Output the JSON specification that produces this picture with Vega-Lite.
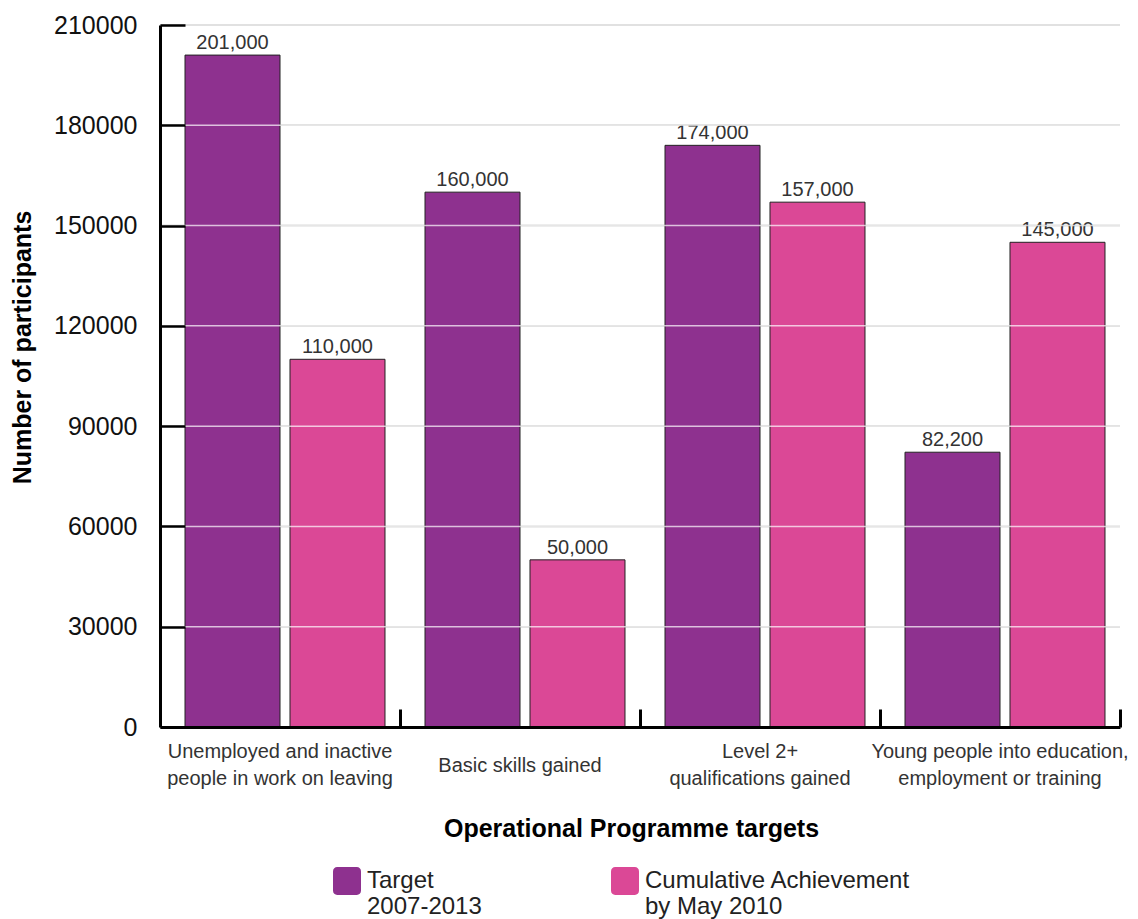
{
  "$schema": "https://vega.github.io/schema/vega-lite/v6.json",
  "autosize": "none",
  "padding": {"left": 160, "top": 25, "right": 18, "bottom": 192},
  "width": 960,
  "height": 702,
  "config": {
    "view": {"stroke": null},
    "font": "Liberation Sans"
  },
  "datasets": {
    "bars": [
      {"category": "Unemployed and inactive people in work on leaving", "series": "Target 2007-2013", "value": 201000},
      {"category": "Unemployed and inactive people in work on leaving", "series": "Cumulative Achievement by May 2010", "value": 110000},
      {"category": "Basic skills gained", "series": "Target 2007-2013", "value": 160000},
      {"category": "Basic skills gained", "series": "Cumulative Achievement by May 2010", "value": 50000},
      {"category": "Level 2+ qualifications gained", "series": "Target 2007-2013", "value": 174000},
      {"category": "Level 2+ qualifications gained", "series": "Cumulative Achievement by May 2010", "value": 157000},
      {"category": "Young people into education, employment or training", "series": "Target 2007-2013", "value": 82200},
      {"category": "Young people into education, employment or training", "series": "Cumulative Achievement by May 2010", "value": 145000}
    ],
    "grid": [
      {"g": 30000}, {"g": 60000}, {"g": 90000}, {"g": 120000}, {"g": 150000}, {"g": 180000}, {"g": 210000}
    ]
  },
  "layer": [
    {
      "data": {"name": "grid"},
      "mark": {"type": "rule", "color": "#aaaaaa", "strokeWidth": 1.5},
      "encoding": {
        "y": {"field": "g", "type": "quantitative", "scale": {"domain": [0, 210000], "nice": false}}
      }
    },
    {
      "data": {"name": "bars"},
      "mark": {"type": "bar", "stroke": "#222222", "strokeWidth": 1},
      "encoding": {
        "x": {
          "field": "category", "type": "nominal", "sort": null,
          "scale": {"paddingInner": 0, "paddingOuter": 0},
          "axis": {
            "title": "Operational Programme targets",
            "titleFontSize": 25, "titleFontWeight": "bold", "titleColor": "#000000", "titlePadding": 28, "titleX": 471,
            "labelAngle": 0, "labelFontSize": 20, "labelColor": "#333333", "labelBaseline": "middle",
            "labelLineHeight": 27,
            "labelPadding": {"condition": {"test": "datum.value == 'Basic skills gained'", "value": 56}, "value": 42},
            "labelLimit": 320,
            "labelExpr": "datum.value == 'Unemployed and inactive people in work on leaving' ? ['Unemployed and inactive', 'people in work on leaving'] : datum.value == 'Level 2+ qualifications gained' ? ['Level 2+', 'qualifications gained'] : datum.value == 'Young people into education, employment or training' ? ['Young people into education,', 'employment or training'] : datum.value",
            "domainColor": "#000000", "domainWidth": 3,
            "tickColor": "#000000", "tickWidth": 3, "tickSize": -18, "bandPosition": 1,
            "zindex": 1
          }
        },
        "xOffset": {"field": "series", "sort": null, "scale": {"range": [10, 240], "paddingInner": 0.0952, "paddingOuter": 0.143}},
        "y": {
          "field": "value", "type": "quantitative",
          "scale": {"domain": [0, 210000], "nice": false},
          "axis": {
            "title": "Number of participants",
            "titleFontSize": 25, "titleFontWeight": "bold", "titleColor": "#000000", "titlePadding": 18, "titleY": 322,
            "values": [0, 30000, 60000, 90000, 120000, 150000, 180000, 210000],
            "format": "d",
            "labelFontSize": 25, "labelColor": "#111111", "labelPadding": 48,
            "grid": false,
            "tickColor": "#000000", "tickWidth": 2.5, "tickSize": -25,
            "domainColor": "#000000", "domainWidth": 3,
            "zindex": 1
          }
        },
        "color": {
          "field": "series", "type": "nominal", "sort": null,
          "scale": {"domain": ["Target 2007-2013", "Cumulative Achievement by May 2010"], "range": ["#8e318f", "#db4896"]},
          "legend": {
            "title": null, "orient": "none", "legendX": 173, "legendY": 842, "direction": "horizontal",
            "padding": 0, "columnPadding": 129,
            "symbolType": "M -0.7 -1 L 0.7 -1 A 0.3 0.3 0 0 1 1 -0.7 L 1 0.7 A 0.3 0.3 0 0 1 0.7 1 L -0.7 1 A 0.3 0.3 0 0 1 -1 0.7 L -1 -0.7 A 0.3 0.3 0 0 1 -0.7 -1 Z",
            "symbolSize": 784, "symbolStrokeWidth": 0, "symbolOpacity": 1,
            "labelFontSize": 24, "labelColor": "#222222", "labelBaseline": "middle", "labelOffset": 6, "labelLimit": 400,
            "labelExpr": "datum.label == 'Target 2007-2013' ? ['Target', '2007-2013'] : ['Cumulative Achievement', 'by May 2010']"
          }
        }
      }
    },
    {
      "data": {"name": "bars"},
      "mark": {"type": "text", "baseline": "alphabetic", "dy": -6, "fontSize": 20, "color": "#333333"},
      "encoding": {
        "x": {"field": "category", "type": "nominal", "sort": null},
        "xOffset": {"field": "series", "sort": null},
        "y": {"field": "value", "type": "quantitative"},
        "text": {"field": "value", "type": "quantitative", "format": ","}
      }
    },
    {
      "data": {"name": "grid"},
      "mark": {"type": "rule", "color": "#ffffff", "opacity": 0.7, "strokeWidth": 1.5},
      "encoding": {
        "y": {"field": "g", "type": "quantitative"}
      }
    }
  ]
}
